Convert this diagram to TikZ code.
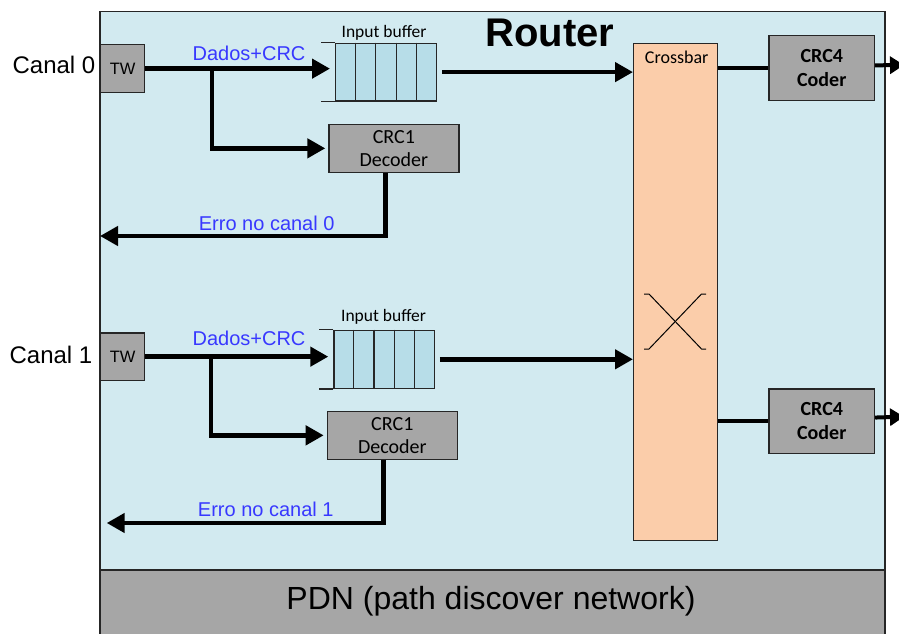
\documentclass[tikz,border=0pt]{standalone}
\usepackage{fontspec}
\setmainfont{Liberation Sans}
\newfontfamily\calib{Carlito}
\usetikzlibrary{arrows.meta,calc}
\definecolor{routerbg}{RGB}{210,234,240}
\definecolor{cellblue}{RGB}{183,221,232}
\definecolor{boxgray}{RGB}{166,166,166}
\definecolor{xbarfill}{RGB}{251,205,170}
\definecolor{txtblue}{RGB}{56,56,255}
\begin{document}
\begin{tikzpicture}[x=1pt,y=-1pt,
  box/.style={draw=black!85, line width=1.2pt, inner sep=0pt, anchor=north west},
  graybox/.style={box, fill=boxgray},
  flow/.style={line width=4.4pt, -{Triangle[length=18pt,width=19pt]}},
  plainline/.style={line width=4pt},
  outarrow/.style={line width=4pt, -{Triangle[length=14pt,width=17pt]}},
  lbl/.style={anchor=base, inner sep=0pt},
  bluetxt/.style={lbl, text=txtblue, font=\fontsize{20}{24}\selectfont},
  calsmall/.style={lbl, font=\calib\fontsize{17.5}{20}\selectfont},
  decbox/.style={graybox, minimum width=130pt, minimum height=47.5pt, align=center, font=\calib\fontsize{20}{23.4}\selectfont},
  codbox/.style={graybox, minimum width=105.7pt, minimum height=64.5pt, align=center, font=\calib\bfseries\fontsize{20}{23.4}\selectfont},
  twbox/.style={graybox, minimum width=44pt, minimum height=47.5pt, font=\fontsize{16.5}{18}\selectfont},
  bufbox/.style={box, fill=cellblue, minimum width=101pt, minimum height=57.6pt},
  canal/.style={lbl, font=\fontsize{24}{28}\selectfont},
  cellline/.style={draw=black!85, line width=1.2pt},
  xline/.style={line width=1pt}
  ]
\useasboundingbox (0,0) rectangle (899,634);

% frames
\node[box, fill=routerbg, line width=1.5pt, minimum width=785pt, minimum height=558pt] (router) at (99,11) {};
\node[box, fill=boxgray, line width=1.5pt, minimum width=785pt, minimum height=80pt] (pdn) at (99,569) {};
\node[lbl, font=\fontsize{32}{36}\selectfont] (pdnlbl) at (491,609) {PDN (path discover network)};
\node[lbl, font=\bfseries\fontsize{40}{44}\selectfont] (title) at (550,46.7) {Router};

% crossbar
\node[box, fill=xbarfill, minimum width=84pt, minimum height=497.3pt] (xbar) at (633,42.7) {};
\node[lbl, font=\calib\fontsize{18}{20}\selectfont] (xbl) at (676.7,63.3) {Crossbar};
\draw[xline] (644,294) -- (649,294) -- (701.5,349) -- (706,349);
\draw[xline] (706,294) -- (701.5,294) -- (649,349) -- (644,349);

% coders
\node[codbox] (cod0) at (768.3,35) {CRC4\\Coder};
\node[codbox] (cod1) at (768.3,388.3) {CRC4\\Coder};

% ---------- channel 0 ----------
\node[canal] (c0) at (54,73.3) {Canal 0};
\node[twbox] (tw0) at (100,44.3) {TW};
\node[bufbox] (buf0) at (335,42.7) {};
\foreach \i in {1,...,4}
  \draw[cellline] ($(buf0.north west)!\i/5!(buf0.north east)$) -- ($(buf0.south west)!\i/5!(buf0.south east)$);
\draw[cellline] (buf0.north west) -- ++(-14,0);
\draw[cellline] (buf0.south west) -- ++(-14,0);
\node[calsmall] (ib0) at (384,37.7) {Input buffer};
\node[decbox] (dec0) at (328.3,124) {CRC1\\Decoder};
\node[bluetxt] (dt0) at (249,61) {Dados+CRC};
\node[bluetxt] (et0) at (266.7,230) {Erro no canal 0};

\coordinate (j0) at (212,67.5);
\coordinate (e0) at (100,236);
\draw[flow, shorten >=5pt] (tw0.east) -- (tw0.east -| buf0.west);
\draw[flow, shorten >=3pt] (j0) |- (dec0.west);
\draw[flow] ([xshift=-8.3pt]dec0.south) |- (e0);
\draw[flow, shorten <=5pt] (buf0.east) -- (buf0.east -| xbar.west);
\draw[plainline] (cod0.west -| xbar.east) -- (cod0.west);
\coordinate (o0) at (904,65);
\draw[outarrow] ([yshift=2.5pt]cod0.east) -- (o0);

% ---------- channel 1 ----------
\node[canal] (c1) at (51,363.3) {Canal 1};
\node[twbox] (tw1) at (100,332.3) {TW};
\node[bufbox, minimum width=100.4pt, minimum height=58pt] (buf1) at (333.3,329.7) {};
\foreach \i in {1,...,4}
  \draw[cellline] ($(buf1.north west)!\i/5!(buf1.north east)$) -- ($(buf1.south west)!\i/5!(buf1.south east)$);
\draw[cellline] (buf1.north west) -- ++(-14,0);
\draw[cellline] (buf1.south west) -- ++(-14,0);
\node[calsmall] (ib1) at (383.5,321) {Input buffer};
\node[decbox] (dec1) at (326.7,411) {CRC1\\Decoder};
\node[bluetxt] (dt1) at (249,345.7) {Dados+CRC};
\node[bluetxt] (et1) at (265.8,516.7) {Erro no canal 1};

\coordinate (j1) at (210.7,355);
\coordinate (e1) at (106.7,523);
\draw[flow, shorten >=5pt] (tw1.east) -- (tw1.east -| buf1.west);
\draw[flow, shorten >=3pt] (j1) |- (dec1.west);
\draw[flow] ([xshift=-9pt]dec1.south) |- (e1);
\draw[flow, shorten <=5pt] (buf1.east) -- (buf1.east -| xbar.west);
\draw[plainline] (cod1.west -| xbar.east) -- (cod1.west);
\coordinate (o1) at (904,416.7);
\draw[outarrow] ([yshift=3.6pt]cod1.east) -- (o1);
\end{tikzpicture}
\end{document}
